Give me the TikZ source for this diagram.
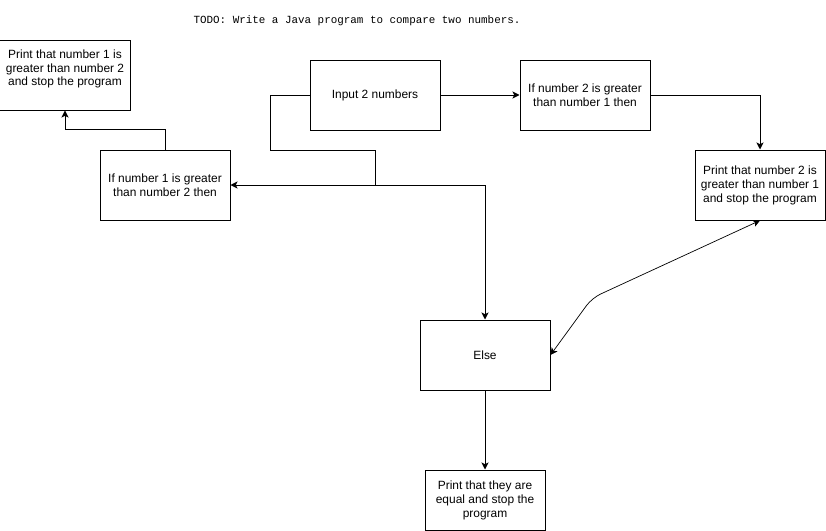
\documentclass[tikz,border=0pt]{standalone}
\usepackage{fontspec}
\setmainfont{Liberation Sans}
\setmonofont{Liberation Mono}
\usetikzlibrary{positioning,arrows.meta}

\begin{document}
\begin{tikzpicture}[x=0.03cm, y=-0.03cm,
	box/.style={draw, line width=0.85pt, minimum width=3.9cm, minimum height=2.1cm, align=center, inner sep=0pt, font=\fontsize{10.2}{11.9}\selectfont},
	flow/.style={line width=0.85pt, -{Stealth[length=6pt, width=6pt, inset=1.5pt]}}]

	\useasboundingbox (0,0) rectangle (826,531);

	% Instances/Boxes:
	\node[box] (input) at (375,95) {Input 2 numbers};
	\node[box] (ifTwo) at (585,95) {If number 2 is greater\\than number 1 then};
	\node[box] (ifOne) at (165,185) {If number 1 is greater\\than number 2 then};
	\node[box, text depth=12.5pt] (printOne) at (65,75) {Print that number 1 is\\greater than number 2\\and stop the program};
	\node[box] (printTwo) at (760,185) {Print that number 2 is\\greater than number 1\\and stop the program};
	\node[box] (elseBox) at (485,355) {Else};
	\node[box, minimum width=3.6cm, minimum height=1.8cm] (printEq) at (485,500) {Print that they are\\equal and stop the\\program};

	% Helper points:
	\coordinate (loopL) at (270,150);
	\coordinate (split) at (375,185);
	\coordinate (bend) at (592,298);

	% Lines:
	\draw[flow] (input.east) -- (ifTwo.west);
	\draw[flow] (ifTwo.east) -| (printTwo.north);
	\draw[flow] (input.west) -| (loopL) -| (split) -- (ifOne.east);
	\draw[flow] (split) -| (elseBox.north);
	\draw[flow] (ifOne.north) -- ++(0,-20) -| (printOne.south);
	\draw[line width=0.6pt, {Stealth[length=6pt, width=6pt, inset=1.5pt]}-{Stealth[length=6pt, width=6pt, inset=1.5pt]}, rounded corners=8] (printTwo.south) -- (bend) -- (elseBox.east);
	\draw[flow] (elseBox.south) -- (printEq.north);

	% Labels:
	\node[font=\ttfamily\fontsize{9.3}{11}\selectfont] (title) at (357,21) {TODO: Write a Java program to compare two numbers.};

\end{tikzpicture}
\end{document}
